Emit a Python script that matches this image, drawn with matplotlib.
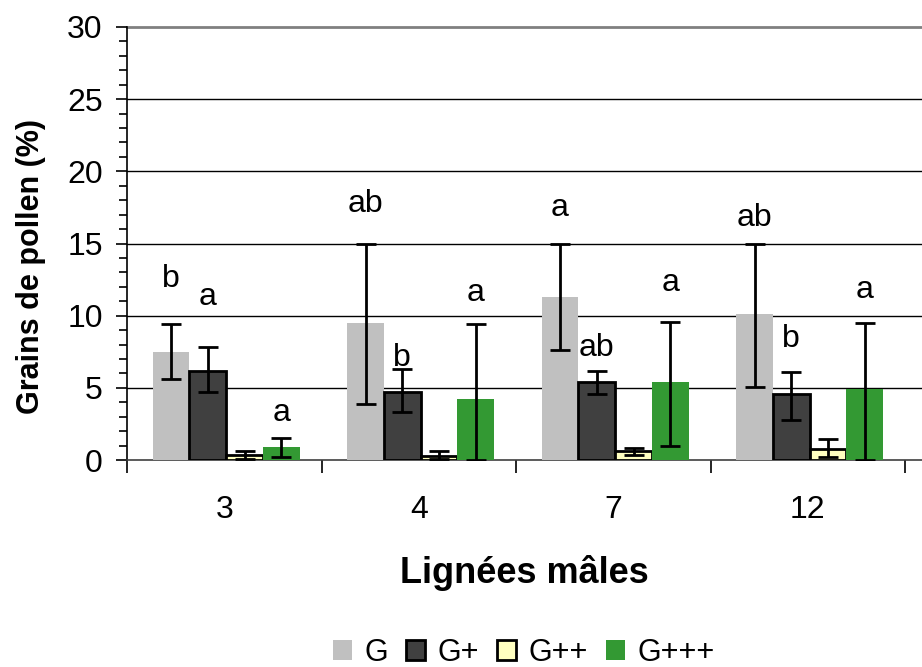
import matplotlib
matplotlib.use("Agg")
import matplotlib.pyplot as plt
import numpy as np
from matplotlib.ticker import MultipleLocator

plt.rcParams['font.family'] = ['Liberation Sans', 'DejaVu Sans']

categories = ['3', '4', '7', '12']
series = ['G', 'G+', 'G++', 'G+++']

G_vals = [7.5, 9.5, 11.3, 10.1]
G_lo = [5.6, 3.9, 7.6, 5.05]
G_hi = [9.4, 15.0, 15.0, 15.0]

Gp_vals = [6.2, 4.7, 5.4, 4.6]
Gp_lo = [4.7, 3.3, 4.6, 2.8]
Gp_hi = [7.8, 6.3, 6.2, 6.1]

Gpp_vals = [0.35, 0.3, 0.6, 0.75]
Gpp_lo = [0.1, 0.1, 0.35, 0.2]
Gpp_hi = [0.6, 0.6, 0.85, 1.45]

Gppp_vals = [0.9, 4.2, 5.4, 4.9]
Gppp_lo = [0.2, 0.0, 1.0, 0.0]
Gppp_hi = [1.5, 9.4, 9.55, 9.5]

# significance letters: (category index, series index, text, baseline y)
letters = [
    (0, 0, 'b', 12.0), (0, 1, 'a', 10.75), (0, 3, 'a', 2.7),
    (1, 0, 'ab', 17.2), (1, 1, 'b', 6.5), (1, 3, 'a', 11.0),
    (2, 0, 'a', 16.9), (2, 1, 'ab', 7.2), (2, 3, 'a', 11.7),
    (3, 0, 'ab', 16.2), (3, 1, 'b', 7.8), (3, 3, 'a', 11.2),
]

colors = ['#c0c0c0', '#404040', '#ffffc0', '#339933']
edges = ['none', 'black', 'black', 'none']

fig = plt.figure(figsize=(9.22, 6.67), dpi=100)
ax = fig.add_axes([127/922, 1-460/667, 1-127/922, (460-27)/667])

x = np.arange(len(categories))
w = 0.189
vals = [G_vals, Gp_vals, Gpp_vals, Gppp_vals]
los = [G_lo, Gp_lo, Gpp_lo, Gppp_lo]
his = [G_hi, Gp_hi, Gpp_hi, Gppp_hi]

for i in range(4):
    xs = x + (i - 1.5) * w + 0.01
    v = np.array(vals[i])
    lo = np.array(los[i])
    hi = np.array(his[i])
    ax.bar(xs, v, w, color=colors[i], edgecolor=edges[i],
           linewidth=2 if edges[i] != 'none' else 0, label=series[i], zorder=3)
    ax.errorbar(xs, v, yerr=[v - lo, hi - v], fmt='none', ecolor='black',
                elinewidth=2, capsize=7.5, capthick=2, zorder=4)

for ci, si, t, yb in letters:
    ax.text(x[ci] + (si - 1.5) * w + 0.01, yb, t, ha='center', va='baseline',
            fontsize=23, color='black', zorder=5)

ax.set_ylim(0, 30)
ax.set_xlim(-0.5, 3.5 + 17/194.5)
ax.yaxis.set_major_locator(MultipleLocator(5))
ax.yaxis.set_minor_locator(MultipleLocator(1))
ax.set_yticks([0, 5, 10, 15, 20, 25, 30])
ax.set_yticklabels(['0', '5', '10', '15', '20', '25', '30'], fontsize=23)
ax.tick_params(axis='y', which='major', direction='out', length=8, width=1.2, pad=9.5)
ax.tick_params(axis='y', which='minor', direction='out', length=6, width=1.2)

ax.set_xticks(x)
ax.set_xticklabels(categories, fontsize=23)
ax.tick_params(axis='x', which='major', length=0, pad=25)
ax.set_xticks(np.arange(-0.5, 3.6, 1.0), minor=True)
ax.tick_params(axis='x', which='minor', direction='out', length=9, width=1.2)

for yv in [5, 10, 15, 20, 25]:
    ax.axhline(yv, color='black', linewidth=1.0, zorder=1)
ax.axhline(30, color='#808080', linewidth=2.0, zorder=1, clip_on=False)

for s in ['top', 'right']:
    ax.spines[s].set_visible(False)
ax.spines['left'].set_linewidth(1.2)
ax.spines['bottom'].set_linewidth(1.2)
ax.spines['bottom'].set_color('#404040')

ax.set_ylabel('Grains de pollen (%)', fontsize=22, fontweight='bold')
ax.yaxis.set_label_coords(-0.102, 0.448)
ax.set_xlabel('Lignées mâles', fontsize=26, fontweight='bold', labelpad=22)

handles, labels_ = ax.get_legend_handles_labels()
fig.legend(handles, labels_, loc='center', bbox_to_anchor=(524/922, 1-653/667),
           ncol=4, frameon=False, fontsize=22, handlelength=0.62, handleheight=0.62,
           handletextpad=0.4, columnspacing=0.6, borderpad=0.1)

fig.savefig('out.png', dpi=100)
